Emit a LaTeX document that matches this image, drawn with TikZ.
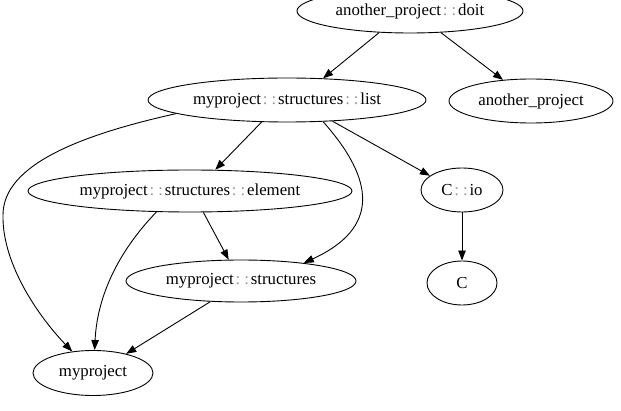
\documentclass[tikz,border=0pt]{standalone}
\usepackage{fontspec}
\setmainfont{Liberation Serif}
\usetikzlibrary{shapes.geometric,arrows.meta}
\newcommand\dcolon{\makebox[17pt]{\color{black!40}:\hspace{4pt}:}}
\begin{document}
\begin{tikzpicture}[x=1pt,y=-1pt,
  nd/.style={ellipse,draw,line width=0.9pt,inner sep=0pt,font=\fontsize{16.8}{20}\selectfont},
  arr/.style={line width=0.9pt,-{Triangle[length=10pt,width=7.5pt]}}]
\useasboundingbox (0,0) rectangle (621,411);
\node[nd,minimum width=226pt,minimum height=44pt] (doit) at (410,11) {another\_project\dcolon doit};
\node[nd,minimum width=278pt,minimum height=44pt] (list) at (287,100) {myproject\dcolon structures\dcolon list};
\node[nd,minimum width=164pt,minimum height=44pt] (another) at (531,101) {another\_project};
\node[nd,minimum width=324pt,minimum height=42pt] (element) at (190,191) {myproject\dcolon structures\dcolon element};
\node[nd,minimum width=82pt,minimum height=44pt] (cio) at (462,190) {C\dcolon io};
\node[nd,minimum width=230pt,minimum height=42pt] (structures) at (241,281) {myproject\dcolon structures};
\node[nd,minimum width=70pt,minimum height=44pt] (C) at (462,283) {C};
\node[nd,minimum width=120pt,minimum height=45pt] (myproject) at (93,373) {myproject};
\draw[arr] (doit.215) -- (list.31);
\draw[arr] (doit.-35) -- (another.143.5);
\draw[arr] (list.221) -- (element.40);
\draw[arr] (list.-31) .. controls (375,180) and (380,228) .. (structures.16);
\draw[arr] (list.-25.6) -- (cio.156.6);
\draw[arr] (cio) -- (C);
\draw[arr] (list.187) .. controls (80,135) and (3,165) .. (3,215) .. controls (2,265) and (40,318) .. (myproject.134);
\draw[arr] (element.212) .. controls (115,255) and (97,300) .. (myproject.86);
\draw[arr] (element.-58) -- (structures.120.6);
\draw[arr] (structures.214) -- (myproject.30);
\end{tikzpicture}
\end{document}
